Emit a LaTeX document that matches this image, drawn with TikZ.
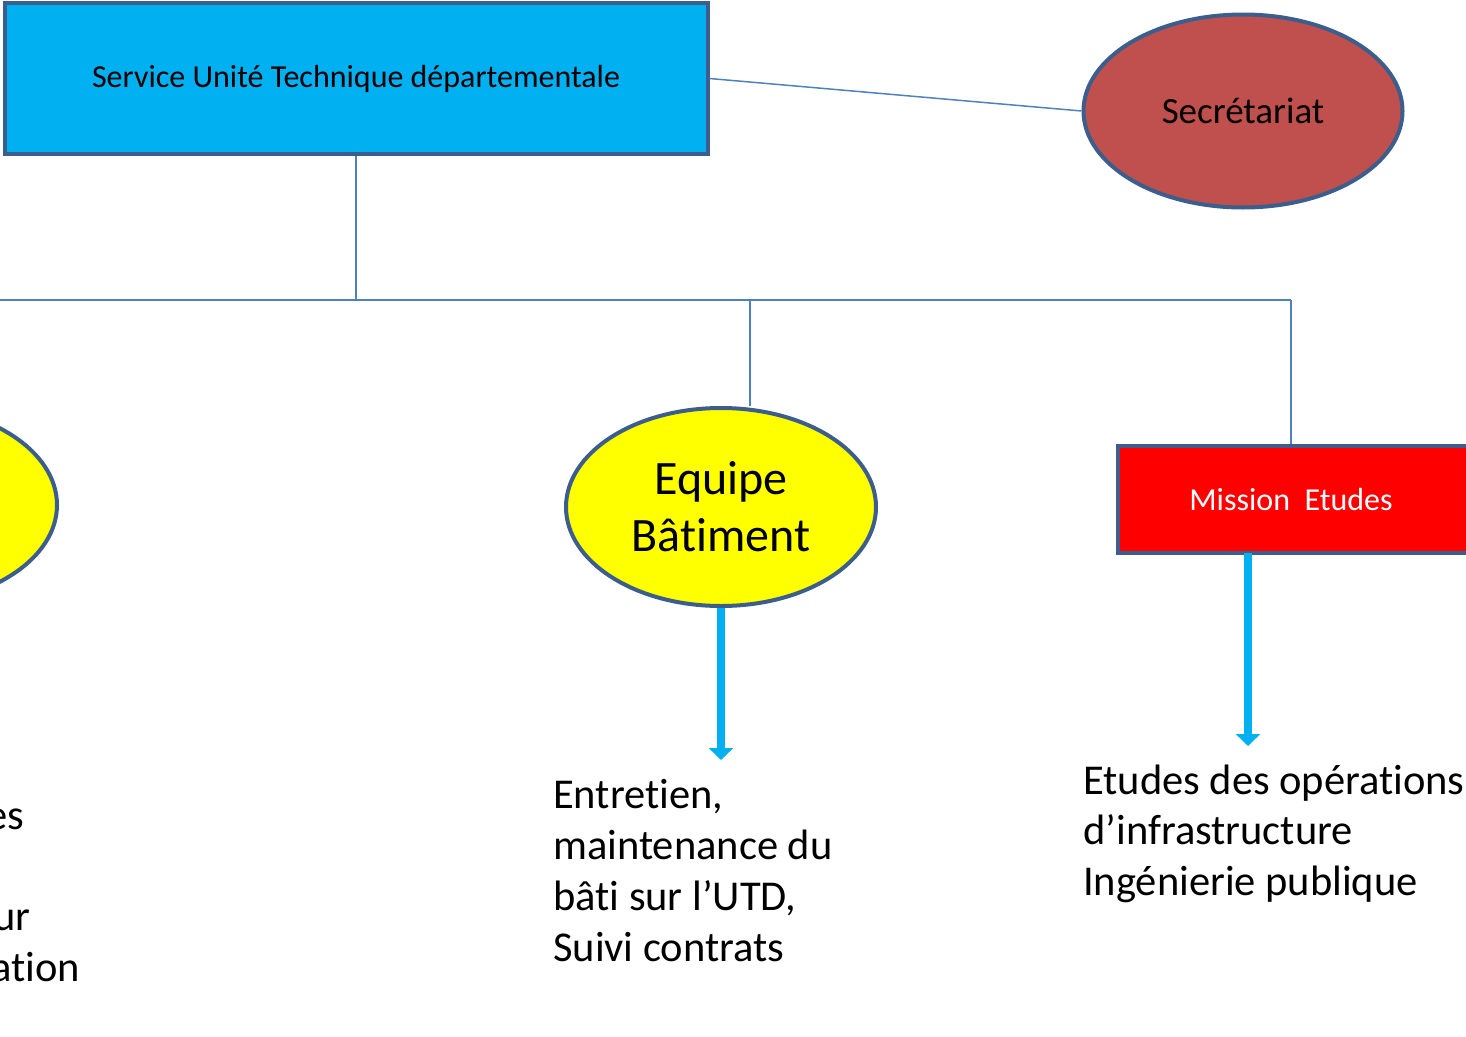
\documentclass[tikz,border=0pt]{standalone}
\usepackage{fontspec}
\setmainfont{Carlito}[Ligatures=NoCommon]
\usetikzlibrary{shapes.geometric,arrows.meta}
\definecolor{bord}{RGB}{60,94,140}
\definecolor{conn}{RGB}{79,129,189}
\definecolor{cyanb}{RGB}{0,176,240}
\definecolor{secr}{RGB}{192,80,77}
\definecolor{yel}{RGB}{255,255,0}
\definecolor{redb}{RGB}{255,0,0}
\tikzset{
  boxst/.style={draw=bord,line width=4pt,rectangle,inner sep=0pt},
  ellst/.style={draw=bord,line width=4pt,ellipse,inner sep=0pt},
  conline/.style={draw=conn,line width=1.5pt},
  bigarrow/.style={draw=cyanb,line width=8pt,-{Triangle[width=24pt,length=12pt]}},
  descfont/.style={font=\fontsize{42.5}{50.7}\selectfont},
  desc/.style={descfont,align=left,anchor=north west,inner sep=0pt},
}
\begin{document}
\begin{tikzpicture}[x=1pt,y=-1pt]
\useasboundingbox (0,0) rectangle (1466,1036);
\clip (0,0) rectangle (1466,1036);
\node[boxst,fill=cyanb,minimum width=703pt,minimum height=151pt,font=\fontsize{32}{38}\selectfont] (utd) at (356,78.5) {\raisebox{-2pt}{Service Unité Technique départementale}};
\node[ellst,fill=secr,minimum width=319pt,minimum height=193pt,font=\fontsize{37}{44}\selectfont] (sec) at (1243,111) {\raisebox{-1pt}{Secrétariat}};
\node[ellst,fill=yel,minimum width=310pt,minimum height=198pt] (left) at (-98,505) {};
\node[ellst,fill=yel,minimum width=310pt,minimum height=198pt,align=center,font=\fontsize{48}{57}\selectfont] (bat) at (721,507) {Equipe\\Bâtiment};
\node[boxst,fill=redb,text=white,minimum width=360pt,minimum height=107pt,font=\fontsize{32}{38}\selectfont] (mis) at (1298,499.5) {\hspace*{-14pt}Mission\ \ Etudes};
\coordinate (j0) at (356,300);
\coordinate (jl) at (-20,300);
\coordinate (jb) at (750,300);
\coordinate (jm) at (1291,300);
\draw[conline] (utd.east) -- (sec.west);
\draw[conline] (utd.south) -- (j0);
\draw[conline] (jl) -- (jm);
\draw[conline] (jb) -- (jb |- bat.north);
\draw[conline] (jm) -- (jm |- mis.north);
\node[desc] (tbat) at (553,779.5) {Entretien,\\maintenance du\\bâti sur l’UTD,\\Suivi contrats};
\node[desc] (tmis) at (1083,764.5) {Etudes des opérations\\d’infrastructure\\Ingénierie publique};
\coordinate (abat) at (721,760);
\coordinate (amis) at (1248,746);
\coordinate (smis) at (1248,553);
\draw[bigarrow] (bat.south) -- (abat);
\draw[bigarrow] (smis) -- (amis);
\node[descfont,anchor=base east,inner sep=0pt] (l1) at (24,829) {es};
\node[descfont,anchor=base east,inner sep=0pt] (l2) at (31,930) {ur};
\node[descfont,anchor=base east,inner sep=0pt] (l3) at (80,981) {ation};
\end{tikzpicture}
\end{document}
